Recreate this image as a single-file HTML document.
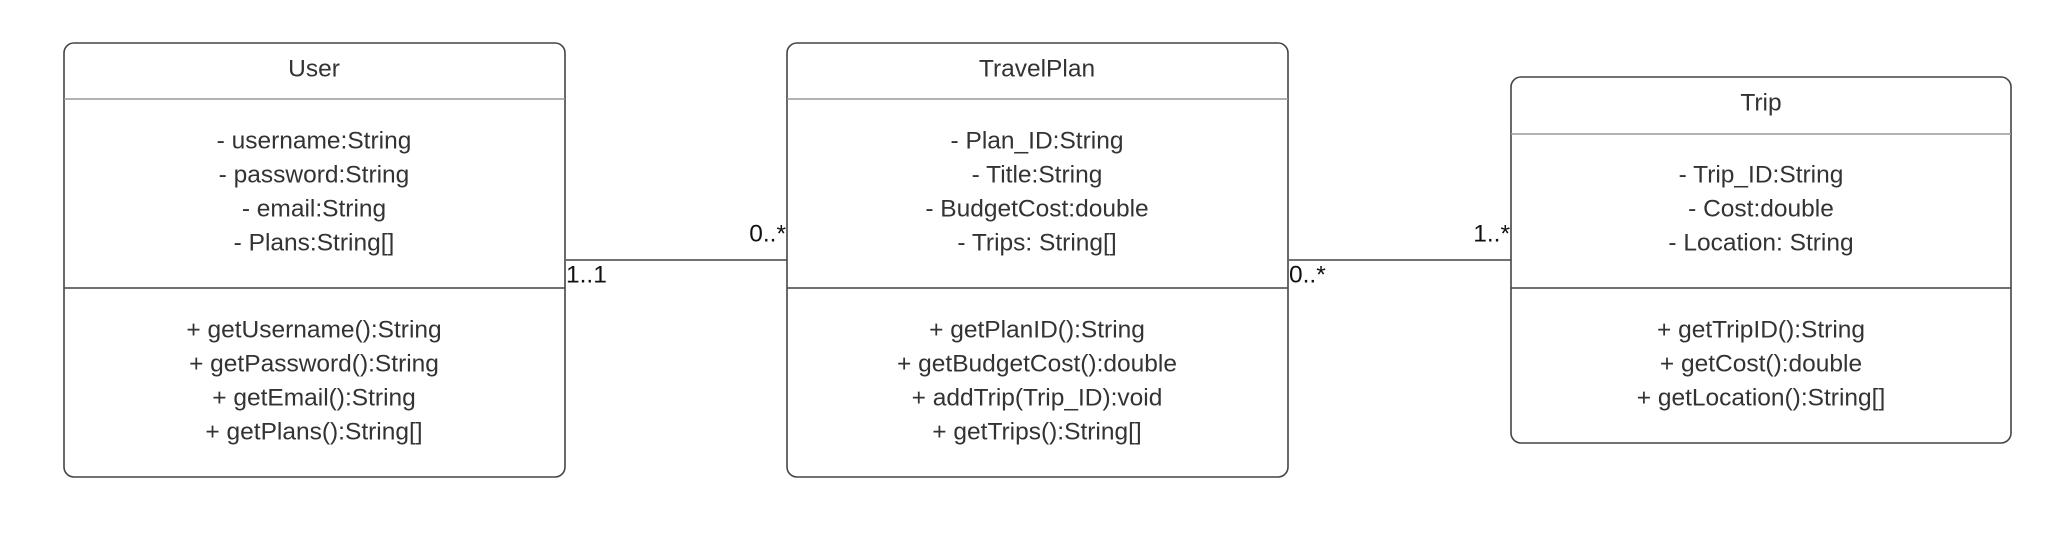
<!DOCTYPE html>
<html><head><meta charset="utf-8"><style>
html,body{margin:0;padding:0;background:#fff;}
text{font-family:"Liberation Sans",sans-serif;font-size:24.5px;fill:#333;}
</style></head><body>
<svg width="2048" height="533" viewBox="0 0 2048 533" xmlns="http://www.w3.org/2000/svg">
<rect x="0" y="0" width="2048" height="533" fill="#fff"/>
<g fill="none" stroke="#444" stroke-width="1.6">
<rect x="64" y="43" width="501" height="434" rx="10"/>
<rect x="787" y="43" width="501" height="434" rx="10"/>
<rect x="1511" y="77" width="500" height="366" rx="10"/>
<line x1="566" y1="260" x2="787" y2="260"/>
<line x1="1289" y1="260" x2="1511" y2="260"/>
<line x1="64" y1="288" x2="565" y2="288"/>
<line x1="787" y1="288" x2="1288" y2="288"/>
<line x1="1511" y1="288" x2="2011" y2="288"/>
</g>
<g stroke="#999" stroke-width="1.4">
<line x1="64" y1="99" x2="565" y2="99"/>
<line x1="787" y1="99" x2="1288" y2="99"/>
<line x1="1511" y1="134" x2="2011" y2="134"/>
</g>
<g text-anchor="middle" dominant-baseline="central" transform="translate(0,-2)">
<text x="314" y="71">User</text>
<text x="314" y="143">- username:String</text>
<text x="314" y="177">- password:String</text>
<text x="314" y="211">- email:String</text>
<text x="314" y="245">- Plans:String[]</text>
<text x="314" y="332">+ getUsername():String</text>
<text x="314" y="366">+ getPassword():String</text>
<text x="314" y="400">+ getEmail():String</text>
<text x="314" y="434">+ getPlans():String[]</text>

<text x="1037" y="71">TravelPlan</text>
<text x="1037" y="143">- Plan_ID:String</text>
<text x="1037" y="177">- Title:String</text>
<text x="1037" y="211">- BudgetCost:double</text>
<text x="1037" y="245">- Trips: String[]</text>
<text x="1037" y="332">+ getPlanID():String</text>
<text x="1037" y="366">+ getBudgetCost():double</text>
<text x="1037" y="400">+ addTrip(Trip_ID):void</text>
<text x="1037" y="434">+ getTrips():String[]</text>

<text x="1761" y="105">Trip</text>
<text x="1761" y="177">- Trip_ID:String</text>
<text x="1761" y="211">- Cost:double</text>
<text x="1761" y="245">- Location: String</text>
<text x="1761" y="332">+ getTripID():String</text>
<text x="1761" y="366">+ getCost():double</text>
<text x="1761" y="400">+ getLocation():String[]</text>
</g>
<g dominant-baseline="central" transform="translate(0,-2)">
<text x="566" y="277" style="fill:#111">1..1</text>
<text x="786" y="236" text-anchor="end" style="fill:#111">0..*</text>
<text x="1289" y="277" style="fill:#111">0..*</text>
<text x="1510" y="236" text-anchor="end" style="fill:#111">1..*</text>
</g>
</svg>
</body></html>
